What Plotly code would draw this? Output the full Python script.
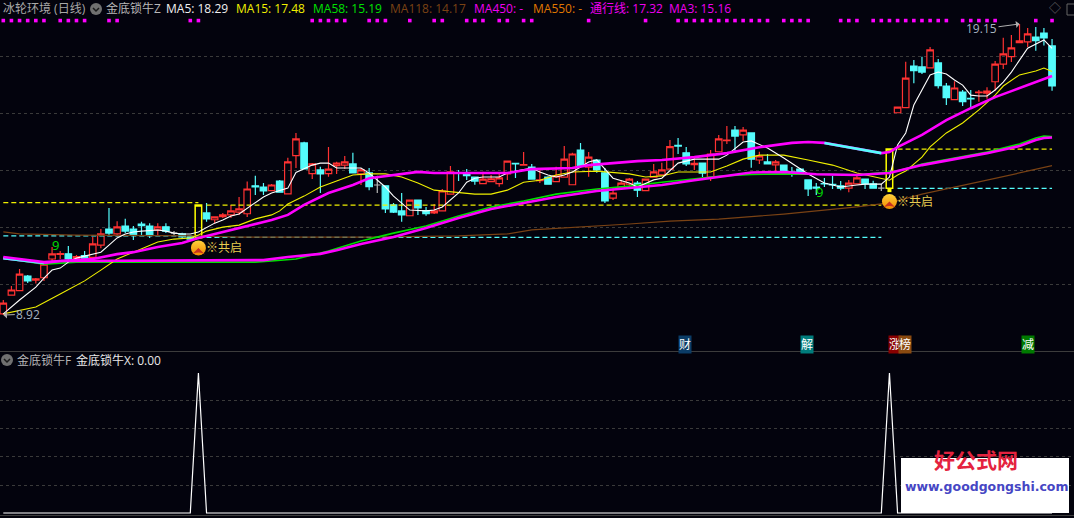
import plotly.graph_objects as go

W, H = 1074, 518

# Daily bars
opens = [8.96,9.62,9.78,10.29,10.15,10.23,10.89,11.05,11.07,10.90,11.01,10.95,11.38,11.94,11.77,12.05,11.94,12.12,12.05,11.91,
         12.02,11.80,11.77,11.67,11.64,12.51,12.27,12.38,12.44,12.54,12.48,13.46,13.42,13.29,13.63,13.18,14.52,14.97,13.89,14.02,
         13.89,14.17,14.19,14.23,13.88,13.92,13.49,13.46,12.79,12.58,12.41,12.96,12.59,12.51,12.58,13.17,13.93,13.90,13.77,13.54,
         13.61,13.54,13.88,14.25,14.19,14.12,13.64,13.77,13.61,13.77,13.50,14.72,14.12,14.37,13.92,13.03,13.38,13.52,13.56,13.29,
         13.77,13.85,14.05,14.88,14.62,14.21,14.26,13.77,14.66,15.05,15.42,15.25,15.32,14.37,14.30,14.20,14.19,13.95,14.05,13.67,
         13.42,13.54,13.51,13.46,13.38,13.53,13.70,13.53,13.38,13.38,16.03,16.21,17.67,17.64,17.61,17.78,16.97,16.49,16.76,16.54,
         16.74,16.72,17.12,17.74,18.00,18.49,18.52,18.69,18.83,18.38]
highs = [9.45,9.94,10.54,10.33,10.22,10.82,11.31,11.17,11.35,11.03,11.17,11.67,11.94,12.68,12.22,12.30,12.05,12.20,12.15,12.15,
         12.15,11.87,11.81,11.73,12.79,12.86,12.37,12.51,12.79,13.07,13.61,13.82,13.56,13.53,13.67,14.45,15.32,15.01,14.26,14.13,
         14.83,14.31,14.51,14.62,14.09,14.09,13.82,13.46,12.86,13.21,12.96,12.96,12.72,12.82,13.35,14.16,14.02,14.05,13.77,13.96,
         13.84,13.88,14.34,14.25,14.65,14.23,14.02,13.80,14.13,14.86,14.62,14.97,14.65,14.40,14.09,13.38,13.67,13.74,13.63,13.70,
         14.23,14.27,15.07,15.14,14.83,14.47,14.26,14.72,15.25,15.56,15.56,15.53,15.32,14.66,14.58,14.37,14.19,14.12,14.09,13.67,
         13.56,13.74,13.81,13.63,13.67,13.82,13.70,13.64,13.53,14.76,16.23,17.82,17.88,18.00,18.34,17.92,17.08,17.14,16.83,16.83,
         16.83,16.93,17.85,18.67,18.76,19.15,19.01,19.04,19.01,18.62]
lows = [8.92,9.62,9.77,10.05,10.03,10.12,10.82,10.89,10.82,10.82,10.90,10.85,11.27,11.73,11.67,11.80,11.56,11.73,11.63,11.73,
        11.80,11.71,11.60,11.56,11.64,12.20,12.15,12.33,12.33,12.44,12.37,13.14,13.14,13.28,13.24,13.18,14.09,14.06,13.70,13.21,
        13.78,13.88,14.05,13.92,13.49,13.31,13.21,12.51,12.51,12.20,12.41,12.44,12.41,12.47,12.58,13.17,13.63,13.67,13.50,13.54,
        13.60,13.43,13.67,13.74,14.19,13.70,13.56,13.52,13.61,13.77,13.50,14.16,13.78,13.92,12.86,12.96,13.38,13.39,13.07,13.29,
        13.77,13.85,14.05,14.58,14.16,14.02,13.77,13.63,14.66,14.93,14.62,15.05,14.10,14.23,14.23,13.95,13.98,13.78,13.84,13.10,
        13.14,13.42,13.35,13.31,13.24,13.53,13.35,13.38,13.28,13.31,16.03,16.21,17.07,17.39,17.61,16.88,16.30,16.49,16.27,16.23,
        16.42,16.52,16.80,17.57,17.81,18.49,18.34,18.21,18.39,16.80]
closes = [9.34,9.80,10.36,10.12,10.19,10.71,11.07,11.08,10.89,10.97,10.92,11.42,11.77,11.80,12.02,11.87,11.74,12.06,11.73,12.02,
          11.87,11.80,11.67,11.59,12.79,12.30,12.37,12.44,12.58,12.65,13.35,13.42,13.28,13.49,13.24,14.30,15.11,14.06,14.23,13.88,
          14.05,14.26,14.30,13.92,14.02,13.43,13.49,12.65,12.54,12.44,12.96,12.69,12.48,12.58,13.28,13.95,13.91,13.82,13.63,13.70,
          13.71,13.74,14.33,14.23,14.21,13.70,13.67,13.52,13.81,14.40,14.58,14.16,14.47,14.02,12.93,13.21,13.56,13.70,13.31,13.70,
          13.95,14.02,14.84,14.86,14.23,14.25,13.91,14.58,15.11,15.07,15.21,15.42,14.40,14.51,14.23,14.30,13.98,13.91,13.92,13.35,
          13.38,13.53,13.49,13.38,13.56,13.74,13.53,13.38,13.38,14.76,16.23,17.25,17.51,17.46,18.24,16.98,16.56,16.90,16.42,16.52,
          16.76,16.79,17.74,18.10,18.31,18.56,18.80,18.56,18.66,16.97]
bars = list(range(len(opens)))

yellow_bars = [24, 109]
gray_bars = [21, 46, 108]

ma5_x = [0,2,4,5,6,7,8,9,10,12,13,14,15,16,17,19,20,21,22,23,24,25,26,27,28,29,32,33,35,36,37,38,39,40,41,42,44,45,46,47,48,49,50,
         52,53,54,55,56,57,58,59,61,62,63,65,66,67,68,69,70,71,72,73,74,75,77,78,80,81,83,85,87,88,89,91,92,94,96,98,99,101,103,105,
         106,108,109,110,111,112,113,114,115,116,117,118,119,120,121,122,123,124,125,126,128,129]
ma5 = [8.96,9.45,9.90,10.22,10.50,10.57,10.78,10.92,10.99,11.13,11.38,11.63,11.77,11.84,11.87,11.91,11.87,11.80,11.77,11.77,11.84,
       12.01,12.15,12.26,12.40,12.47,13.07,13.21,13.38,13.93,14.05,14.19,14.26,14.26,14.09,14.09,14.09,13.91,13.67,13.42,13.10,12.86,12.61,
       12.58,12.61,12.72,12.96,13.21,13.59,13.73,13.77,13.77,13.91,13.98,14.09,13.95,13.84,13.77,13.84,13.95,14.12,14.30,14.37,14.05,13.73,
       13.56,13.42,13.67,13.73,14.26,14.40,14.40,14.40,14.54,15.00,15.04,14.79,14.44,14.05,13.88,13.56,13.42,13.49,
       13.52,13.52,13.77,14.90,15.32,16.30,16.83,17.36,17.46,17.39,17.18,17.00,16.65,16.62,16.62,16.83,17.11,17.46,17.88,18.30,18.59,18.29]

ma15_x = [0,4,7,10,12,14,16,19,21,23,24,25,27,29,31,33,34,35,37,39,41,43,45,47,49,51,53,56,58,60,62,64,66,68,70,73,77,79,81,83,85,87,
          89,91,93,96,99,102,105,108,109,110,111,113,114,116,118,120,122,123,125,127,128,129]
ma15 = [8.96,9.20,9.66,10.12,10.50,10.89,11.13,11.49,11.59,11.63,11.73,11.87,12.01,12.08,12.30,12.44,12.58,12.82,13.10,13.42,13.63,13.84,
        13.88,13.88,13.77,13.56,13.31,13.24,13.17,13.17,13.31,13.59,13.66,13.84,13.95,13.98,13.88,13.77,13.81,13.95,13.95,13.95,
        14.16,14.40,14.54,14.54,14.37,14.19,13.91,13.73,13.66,13.84,13.98,14.47,14.83,15.32,15.67,16.13,16.65,16.97,17.36,17.50,17.60,17.48]

ma58_x = [0,5,9,13,27,31,33,36,40,44,48,52,56,60,64,68,73,77,81,85,88,92,96,100,105,109,110,113,117,121,125,127,128,129]
ma58 = [10.92,10.71,10.78,10.78,10.78,10.78,10.82,10.89,11.17,11.52,11.80,12.05,12.40,12.72,12.93,13.17,13.35,13.45,13.59,13.70,13.80,
        13.86,13.88,13.87,13.85,13.95,13.98,14.23,14.44,14.65,14.93,15.14,15.21,15.19]

ma118_x = [0,2,9,24,29,45,56,62,65,71,77,82,88,96,105,109,113,121,129]
ma118 = [11.84,11.77,11.73,11.70,11.66,11.66,11.70,11.77,11.91,12.01,12.12,12.22,12.29,12.47,12.72,12.86,13.17,13.66,14.17]

tong_x = [0,5,7,11,14,16,19,22,24,27,30,33,35,37,40,43,45,47,49,51,53,56,62,65,70,72,75,78,81,85,89,93,97,99,101,103,105,107,108,109,
          110,113,116,119,122,124,129]
tong = [10.92,10.75,10.82,10.89,11.06,11.13,11.31,11.45,11.63,11.84,12.05,12.26,12.44,12.79,13.21,13.49,13.73,13.81,13.88,13.95,13.91,13.91,
        13.91,14.05,14.09,14.19,14.26,14.33,14.37,14.47,14.61,14.82,14.97,15.00,14.97,14.86,14.75,14.65,14.61,14.65,
        14.82,15.25,15.77,16.19,16.58,16.79,17.32]
tong_fall = [(0, 5), (101, 108)]

ma3_x = [0,2,5,7,32,35,39,41,44,48,52,56,60,64,68,73,77,81,85,88,92,96,100,105,109,113,117,121,125,127,128,129]
ma3 = [10.96,10.89,10.78,10.82,10.85,10.96,11.07,11.20,11.42,11.66,11.98,12.33,12.65,12.86,13.07,13.28,13.38,13.49,13.66,13.77,13.93,13.95,
       13.87,13.84,13.91,14.19,14.40,14.61,14.86,15.07,15.14,15.16]

# Level lines: (first bar, last bar, price)
yellow_levels = [(0, 24, 12.87), (25, 108, 12.78), (110, 129, 14.75)]
cyan_levels = [(0, 24, 11.70), (24, 108, 11.65), (110, 129, 13.37)]

# Bars flagged along the top of the pane
flag_bars = [0,1,2,3,4,5,7,8,9,10,13,14,23,24,38,39,40,41,42,45,46,47,50,53,54,57,58,59,61,62,64,65,72,79,83,84,85,86,87,88,
             89,90,91,92,93,94,96,97,98,99,103,104,105,107,108,109,110,111,112,113,114,115,116,118,119,120,121,122,127,129]
flag_price = 19.27

signal_bars = [24, 109]
signal_price = [11.28, 12.91]
count_bars = [6, 100]
count_price = [11.37, 13.25]

# Lower pane, 金底锁牛X
lock_x = [0] * len(bars)
lock_x[24] = 100
lock_x[109] = 100

ma_labels = [("MA5: 18.29", 164, "#F0F0F0"), ("MA15: 17.48", 234, "#F0F000"), ("MA58: 15.19", 311, "#00E000"),
             ("MA118: 14.17", 388, "#7A4214"), ("MA450: -", 472, "#F000F0"), ("MA550: -", 531, "#E07800"),
             ("通行线: 17.32", 588, "#F000F0"), ("MA3: 15.16", 667, "#F000F0")]
tags = [("财", 685, "#0B3C66"), ("解", 807, "#007C7C"), ("涨", 895, "#880000"), ("榜", 905, "#8A4A10"), ("减", 1028, "#007A00")]

BG = "#03030D"
RED = "#FF3232"
CYAN = "#54FCFC"
MAGENTA = "#FF00FF"
FONT = "Open Sans, Noto Sans CJK SC"


def px(x):
    return x / W


def py(y):
    return 1 - y / H


def pick(values, idx):
    return [values[i] for i in idx]


fig = go.Figure()

for first, last, price in cyan_levels:
    fig.add_trace(go.Scatter(x=[first, last], y=[price, price], mode="lines",
                             line=dict(color=CYAN, width=1.2, dash="5px,3px")))
for first, last, price in yellow_levels:
    fig.add_trace(go.Scatter(x=[first, last], y=[price, price], mode="lines",
                             line=dict(color="#F0F000", width=1.2, dash="5px,3px")))

fig.add_trace(go.Scatter(x=ma118_x, y=ma118, mode="lines", line=dict(color="#7A4214", width=1.2)))
fig.add_trace(go.Scatter(x=ma58_x, y=ma58, mode="lines", line=dict(color="#00E000", width=1.6)))

# Candles
normal = [i for i in bars if i not in yellow_bars and i not in gray_bars]
fig.add_trace(go.Candlestick(
    x=normal, open=pick(opens, normal), high=pick(highs, normal), low=pick(lows, normal), close=pick(closes, normal),
    increasing=dict(line=dict(color=RED, width=1.2), fillcolor="rgba(0,0,0,0)"),
    decreasing=dict(line=dict(color=CYAN, width=1.2), fillcolor=CYAN),
    whiskerwidth=0))
fig.add_trace(go.Candlestick(
    x=gray_bars, open=pick(opens, gray_bars), high=pick(highs, gray_bars), low=pick(lows, gray_bars),
    close=pick(closes, gray_bars),
    increasing=dict(line=dict(color="#B8B8B8", width=1.2)), decreasing=dict(line=dict(color="#B8B8B8", width=1.2)),
    whiskerwidth=0))
fig.add_trace(go.Candlestick(
    x=yellow_bars, open=pick(opens, yellow_bars), high=pick(highs, yellow_bars), low=pick(lows, yellow_bars),
    close=pick(closes, yellow_bars),
    increasing=dict(line=dict(color="#FFFF00", width=1.5), fillcolor="rgba(0,0,0,0)"),
    whiskerwidth=0))

fig.add_trace(go.Scatter(x=ma15_x, y=ma15, mode="lines", line=dict(color="#F0F000", width=1.1)))
fig.add_trace(go.Scatter(x=ma5_x, y=ma5, mode="lines", line=dict(color="#FFFFFF", width=1.1)))
fig.add_trace(go.Scatter(x=tong_x, y=tong, mode="lines", line=dict(color=MAGENTA, width=2.6)))
for first, last in tong_fall:
    keep = [k for k, b in enumerate(tong_x) if first <= b <= last]
    fig.add_trace(go.Scatter(x=pick(tong_x, keep), y=pick(tong, keep), mode="lines", line=dict(color=CYAN, width=2.6)))
fig.add_trace(go.Scatter(x=ma3_x, y=ma3, mode="lines", line=dict(color=MAGENTA, width=2.6)))

fig.add_trace(go.Scatter(x=flag_bars, y=[flag_price] * len(flag_bars), mode="markers",
                         marker=dict(symbol="square", size=3.6, color=MAGENTA)))
fig.add_trace(go.Scatter(x=[109], y=[lows[109]], mode="markers",
                         marker=dict(symbol="square", size=4, color="#FFFF00")))
fig.add_trace(go.Scatter(x=signal_bars, y=signal_price, mode="markers",
                         marker=dict(size=15, color="#FFD23C", line=dict(width=0),
                                     gradient=dict(type="vertical", color="#F08A00"))))
fig.add_trace(go.Scatter(x=signal_bars, y=signal_price, mode="markers",
                         marker=dict(symbol="arrow-wide", size=11, color="#C8321E", line=dict(width=0))))

# Lower pane
fig.add_trace(go.Scatter(x=bars, y=lock_x, mode="lines", line=dict(color="#FFFFFF", width=1.2),
                         xaxis="x2", yaxis="y2"))

annotations = [
    dict(text="冰轮环境 (日线)", x=px(1), y=py(9), color="#A8A8A8"),
    dict(text="金底锁牛Z", x=px(104), y=py(9), color="#B8B8B8"),
    dict(text="金底锁牛F", x=px(15), y=py(360), color="#B8B8B8"),
    dict(text="金底锁牛X: 0.00", x=px(74), y=py(360), color="#E8E8E8"),
    dict(text="◇", x=px(1047), y=py(9), color="#666666"),
]
annotations += [dict(text=t, x=px(x), y=py(9), color=c) for t, x, c in ma_labels]
layout_ann = [dict(text=a["text"], x=a["x"], y=a["y"], xref="paper", yref="paper", xanchor="left", yanchor="middle",
                   showarrow=False, font=dict(family=FONT, size=12, color=a["color"])) for a in annotations]

for t, x, c in tags:
    layout_ann.append(dict(text=t, x=px(x), y=py(344), xref="paper", yref="paper", xanchor="center", showarrow=False,
                           bgcolor=c, borderpad=0, font=dict(family=FONT, size=12, color="#FFFFFF")))

for bar, price in zip(signal_bars, signal_price):
    layout_ann.append(dict(text="※共启", x=bar, y=price, xref="x", yref="y", xanchor="left", xshift=6, showarrow=False,
                           font=dict(family=FONT, size=12, color="#E8CC50")))
for bar, price in zip(count_bars, count_price):
    layout_ann.append(dict(text="9", x=bar, y=price, xref="x", yref="y", showarrow=False, xshift=3,
                           font=dict(family=FONT, size=13, color="#00E000")))

layout_ann.append(dict(text="19.15", x=125, y=highs[125], xref="x", yref="y", ax=-38, ay=5, arrowhead=1, arrowsize=1.2,
                       arrowwidth=1, arrowcolor="#B0B0B0", standoff=0, font=dict(family=FONT, size=12, color="#A8B4C0")))
layout_ann.append(dict(text="8.92", x=0, y=lows[0], xref="x", yref="y", ax=25, ay=-1, arrowhead=1, arrowsize=1.2,
                       arrowwidth=1, arrowcolor="#B0B0B0", standoff=0, font=dict(family=FONT, size=12, color="#A8B4C0")))

# Watermark
layout_ann.append(dict(text="<b>好公式网</b>", x=px(976), y=py(476), xref="paper", yref="paper", xanchor="center", showarrow=False,
                       font=dict(family="Noto Sans CJK SC", size=21, color="#E4233F")))
layout_ann.append(dict(text="<b>www.goodgongshi.com</b>", x=px(986), y=py(496), xref="paper", yref="paper", xanchor="center",
                       showarrow=False, font=dict(family="DejaVu Sans", size=12.5, color="#4646C4")))

shapes = []
for cx, cy in [(96, 9), (7, 360)]:
    shapes.append(dict(type="circle", xref="paper", yref="paper", x0=px(cx - 6), x1=px(cx + 6), y0=py(cy + 6), y1=py(cy - 6),
                       fillcolor="#707070", line=dict(width=0)))
    shapes.append(dict(type="path", xref="paper", yref="paper",
                       path=f"M {px(cx - 3)} {py(cy - 1)} L {px(cx)} {py(cy + 2)} L {px(cx + 3)} {py(cy - 1)}",
                       line=dict(color="#1A1A1A", width=1.5)))
shapes += [
    dict(type="line", xref="paper", yref="paper", x0=0, x1=1, y0=py(351.5), y1=py(351.5), line=dict(color="#3C3C3C", width=1)),
    dict(type="line", xref="paper", yref="paper", x0=0, x1=1, y0=py(515.5), y1=py(515.5), line=dict(color="#3C3C3C", width=1)),
    dict(type="rect", xref="paper", yref="paper", x0=px(1067), x1=px(1076), y0=py(15), y1=py(4),
         line=dict(color="#666666", width=1)),
    dict(type="rect", xref="paper", yref="paper", x0=px(901), x1=px(1069), y0=py(513), y1=py(458), fillcolor="#FFFFFF",
         line=dict(width=0), layer="above"),
]

grid = dict(showgrid=True, gridcolor="#3A3A3A", gridwidth=1, griddash="dot", zeroline=False, showticklabels=False, ticks="",
            showline=False)
fig.update_layout(
    width=W, height=H, margin=dict(l=0, r=0, t=0, b=0), paper_bgcolor=BG, plot_bgcolor=BG, showlegend=False,
    boxgap=0.2, boxgroupgap=0,
    xaxis=dict(range=[-0.406, 131.7], visible=False, rangeslider=dict(visible=False), domain=[0, 1]),
    xaxis2=dict(range=[-0.406, 131.7], visible=False, anchor="y2", domain=[0, 1]),
    yaxis=dict(range=[7.656, 19.993], domain=[0.32239, 1], tickvals=[10, 12, 14, 16, 18], **grid),
    yaxis2=dict(range=[-3.57, 115.7], domain=[0, 0.32239], anchor="x2", tickvals=[20, 40, 60, 80], **grid),
    annotations=layout_ann, shapes=shapes,
)

fig.write_html("out.html", config={"displayModeBar": False}, post_script="document.body.style.margin='0';")
